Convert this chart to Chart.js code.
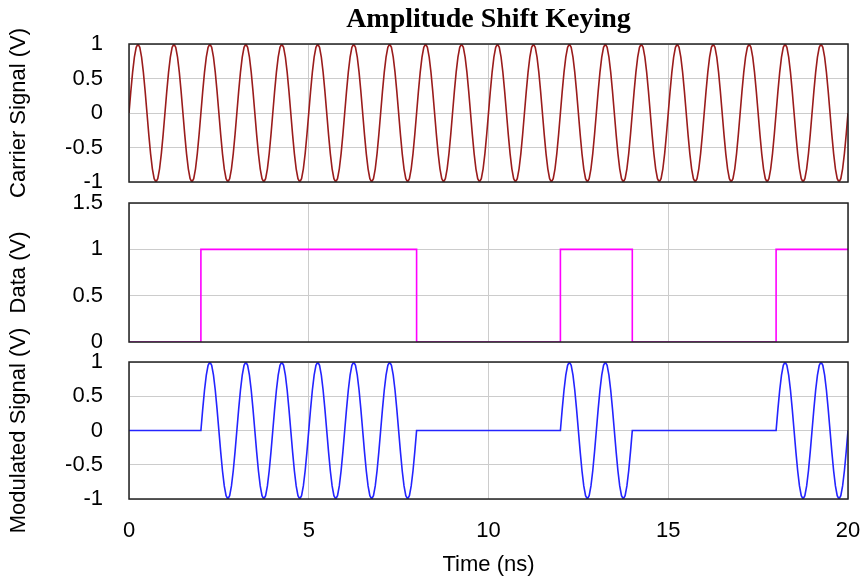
<!DOCTYPE html>
<html>
<head>
<meta charset="utf-8">
<script src="https://cdn.jsdelivr.net/npm/chart.js@4.4.1/dist/chart.umd.min.js"></script>
<style>
  html, body { margin: 0; background: #fff; }
  #wrap { position: relative; width: 863px; height: 581px; overflow: hidden; }
  canvas { position: absolute; left: 0; }
</style>
</head>
<body>
<div id="wrap">
  <canvas id="carrier" width="863" height="200" style="top:0px"></canvas>
  <canvas id="data" width="863" height="160" style="top:190px"></canvas>
  <canvas id="modulated" width="863" height="281" style="top:300px"></canvas>
</div>
<script>
// data
const timeTicks = [0, 5, 10, 15, 20];                 // ns
const dataBits = [0, 0, 1, 1, 1, 1, 1, 1, 0, 0,
                  0, 0, 1, 1, 0, 0, 0, 0, 1, 1];      // one bit per ns
const carrierPeriod = 1;                               // ns (20 cycles over 20 ns)
const carrierAmplitude = 1;                            // V
const sampleStep = 0.05;                               // ns
const signalTicks = [-1, -0.5, 0, 0.5, 1];
const dataTicks = [0, 0.5, 1, 1.5];

// sampled waveforms
const carrierPts = [];
const modulatedPts = [];
for (let i = 0; i <= 400; i++) {
  const t = i * sampleStep;
  const c = carrierAmplitude * Math.sin(2 * Math.PI * t / carrierPeriod);
  const bit = dataBits[Math.min(Math.floor(t + 1e-9), dataBits.length - 1)];
  carrierPts.push({ x: t, y: c });
  modulatedPts.push({ x: t, y: c * bit });
}
const dataPts = dataBits.map((b, i) => ({ x: i, y: b }));
dataPts.push({ x: 20, y: dataBits[dataBits.length - 1] });

Chart.defaults.font.family = '"Liberation Sans", Arial, sans-serif';
Chart.defaults.font.size = 22;
Chart.defaults.color = '#000';

const gridColor = '#cccccc';

const frame = {
  id: 'frame',
  afterDatasetsDraw(chart) {
    const { ctx, chartArea: a } = chart;
    ctx.save();
    ctx.strokeStyle = '#222';
    ctx.lineWidth = 1.5;
    ctx.strokeRect(a.left, a.top, a.right - a.left, a.bottom - a.top);
    ctx.restore();
  }
};

function xScale(position, height, showTicks, title) {
  return {
    type: 'linear',
    position,
    min: 0, max: 20,
    afterBuildTicks: s => { s.ticks = timeTicks.map(v => ({ value: v })); },
    afterFit: s => {
      s.height = height;
      s.paddingLeft = 0;
      s.paddingRight = 0;
    },
    grid: { color: gridColor, lineWidth: 1, drawTicks: false },
    border: { display: false },
    ticks: { display: showTicks, padding: 19, maxRotation: 0, autoSkip: false, callback: v => String(v) },
    title: title || { display: false }
  };
}

function yScale(min, max, tickVals, label) {
  return {
    type: 'linear',
    min, max,
    afterBuildTicks: s => { s.ticks = tickVals.map(v => ({ value: v })); },
    afterFit: s => {
      s.width = 129;
      s.paddingTop = 0;
      s.paddingBottom = 0;
    },
    grid: { color: gridColor, lineWidth: 1, drawTicks: false },
    border: { display: false },
    ticks: { padding: 26, autoSkip: false, callback: v => String(v) },
    title: { display: true, text: label, padding: { top: 6, bottom: 0 } }
  };
}

function makeChart(id, pts, color, xs, ys, padding, stepped) {
  return new Chart(document.getElementById(id), {
    type: 'line',
    data: {
      datasets: [{
        data: pts,
        borderColor: color,
        borderWidth: 1.6,
        pointRadius: 0,
        tension: 0,
        stepped: stepped || false
      }]
    },
    options: {
      responsive: false,
      animation: false,
      layout: { padding },
      plugins: { legend: { display: false }, tooltip: { enabled: false } },
      scales: { x: xs, y: ys }
    },
    plugins: [frame]
  });
}

makeChart('carrier', carrierPts, '#9a1c1c',
  xScale('top', 44, false, {
    display: true,
    text: 'Amplitude Shift Keying',
    font: { family: '"Liberation Serif", "Times New Roman", serif', size: 28, weight: 'bold' },
    padding: { top: 3, bottom: 0 }
  }),
  yScale(-1, 1, signalTicks, 'Carrier Signal (V)'),
  { top: 0, bottom: 18, left: 0, right: 15 });

makeChart('data', dataPts, '#ff00ff',
  xScale('bottom', 0, false),
  yScale(0, 1.5, dataTicks, 'Data (V)'),
  { top: 13, bottom: 8, left: 0, right: 15 }, 'before');

makeChart('modulated', modulatedPts, '#2424ff',
  xScale('bottom', 82, true, {
    display: true,
    text: 'Time (ns)',
    padding: { top: 0, bottom: 3 }
  }),
  yScale(-1, 1, signalTicks, 'Modulated Signal (V)'),
  { top: 62, bottom: 0, left: 0, right: 15 });
</script>
</body>
</html>
